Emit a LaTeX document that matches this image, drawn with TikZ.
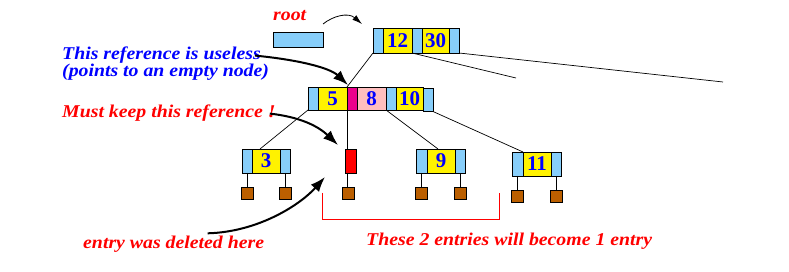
\documentclass[tikz,border=0pt]{standalone}
\usepackage{fontspec}
\setmainfont{Liberation Serif}
\newfontfamily\notefont[FakeStretch=1.1]{Liberation Serif}
\usetikzlibrary{positioning,arrows.meta}

\definecolor{ptrblue}{RGB}{135,206,250}
\definecolor{delpink}{RGB}{255,190,190}
\definecolor{leafbrown}{RGB}{187,95,0}
\definecolor{numblue}{RGB}{0,0,255}

\begin{document}
\begin{tikzpicture}[
    x=1pt, y=-1pt,
    cell/.style={
        draw,
        line width=0.9pt,
        inner sep=0pt,
        outer sep=0pt,
        minimum height=24pt
    },
    ptr/.style={cell, fill=ptrblue, minimum width=10pt},
    key/.style={
        cell,
        fill=yellow,
        minimum width=29pt,
        text=numblue,
        font=\bfseries\fontsize{21}{21}\selectfont
    },
    leafkey/.style={key, minimum width=28pt},
    data/.style={
        draw,
        line width=0.9pt,
        fill=leafbrown,
        minimum size=12pt,
        inner sep=0pt
    },
    link/.style={line width=0.7pt},
    note/.style={
        font=\notefont\bfseries\itshape\fontsize{18}{18}\selectfont,
        anchor=base west,
        inner sep=0pt
    },
    bigarrow/.style={-{Latex[length=15pt,width=11pt]}, line width=2pt}
]

\fill[white] (0,0) rectangle (789,272);
\useasboundingbox (0,0) rectangle (789,272);

% root pointer
\node[note, text=red] (rootlbl) at (273,21) {root};
\node[ptr, minimum width=50pt, minimum height=15pt, anchor=north west] (rootptr) at (273,32) {};

% root node
\node[ptr, anchor=north west, minimum height=25pt] (r0) at (373,28) {};
\node[key, minimum height=25pt, right=0pt of r0] (r12) {12};
\node[ptr, minimum height=25pt, right=0pt of r12] (r1) {};
\node[key, minimum height=25pt, minimum width=27pt, right=0pt of r1] (r30) {30};
\node[ptr, minimum height=25pt, right=0pt of r30] (r2) {};

% middle node
\node[ptr, anchor=north west, minimum height=23pt] (m0) at (308,87) {};
\node[key, minimum height=23pt, right=0pt of m0] (m5) {5};
\node[cell, fill=magenta, minimum width=10pt, minimum height=23pt, right=0pt of m5] (mp) {};
\node[key, fill=delpink, minimum height=23pt, right=0pt of mp] (m8) {8};
\node[ptr, minimum height=23pt, right=0pt of m8] (m1) {};
\node[key, minimum height=23pt, minimum width=27pt, right=0pt of m1] (m10) {10};
\node[ptr, minimum height=23pt, right=0pt of m10, yshift=-1.5pt] (m2) {};

% leaves
\node[ptr, anchor=north west] (l3a) at (242,149) {};
\node[leafkey, right=0pt of l3a] (l3k) {3};
\node[ptr, right=0pt of l3k] (l3b) {};

\node[cell, fill=red, minimum width=11pt, anchor=north west] (dead) at (345,149) {};

\node[ptr, anchor=north west, minimum width=11pt] (l9a) at (416,149) {};
\node[leafkey, right=0pt of l9a] (l9k) {9};
\node[ptr, right=0pt of l9k] (l9b) {};

\node[ptr, anchor=north west, minimum width=11pt] (l11a) at (512,152) {};
\node[leafkey, right=0pt of l11a] (l11k) {11};
\node[ptr, right=0pt of l11k] (l11b) {};

% data records
\foreach \p in {l3a,l3b,l9a,l9b,l11a,l11b}
    \node[data, below=14pt of \p] (\p-data) {};
\node[data, below=14pt of dead, xshift=-2pt] (dead-data) {};

% tree links
\coordinate (cutA) at (516,78);
\coordinate (cutB) at (723,82);
\draw[link] (r0.south west) -- (m5.north east);
\draw[link] (r1.south west) -- (cutA);
\draw[link] (r2.south east) -- (cutB);
\draw[link] (m0.south west) -- ([xshift=-6pt]l3k.north);
\draw[link] (mp.south west) -- (mp.south west |- dead.north);
\draw[link] (m1.south west) -- ([xshift=-3pt]l9k.north);
\draw[link] (m2.south east) -- (l11k.north west);
\foreach \p in {l3a,l3b,l9a,l9b,l11a,l11b}
    \draw[link] (\p.south) -- (\p-data.north);
\draw[link] (dead.south -| mp.south west) -- (dead-data.north -| mp.south west);

% bracket
\coordinate (brL) at (322,193);
\coordinate (brR) at (499,193);
\draw[red, line width=0.8pt] (brL) -- ++(0,26) -| (brR);

% notes
\node[note, text=numblue] (useless) at (62,60) {This reference is useless};
\node[note, text=numblue] (empty) at (62,77) {(points to an empty node)};
\node[note, text=red] (keep) at (62,118) {Must keep this reference !};
\node[note, text=red] (deleted) at (83,248) {entry was deleted here};
\node[note, text=red] (merge) at (366,246) {These 2 entries will become 1 entry};

% arrows
\coordinate (uselessTip) at (348,85);
\coordinate (keepTip) at (338,145);
\coordinate (deletedTip) at (325,177);
\draw[bigarrow] ([xshift=-6pt]useless.east) .. controls (300,60) and (330,68) .. (uselessTip);
\draw[bigarrow] ([xshift=-6pt]keep.east) .. controls (300,117) and (318,126) .. (keepTip);
\draw[bigarrow] ([xshift=34pt,yshift=2pt]deleted.north) .. controls (258,232) and (300,205) .. (deletedTip);
\draw[-{Latex[length=10pt,width=6pt]}, line width=0.8pt] ([yshift=8pt]rootptr.north east)
    .. controls (333,16) and (348,12) .. ([xshift=-11pt,yshift=4pt]r0.north west);

\end{tikzpicture}
\end{document}
